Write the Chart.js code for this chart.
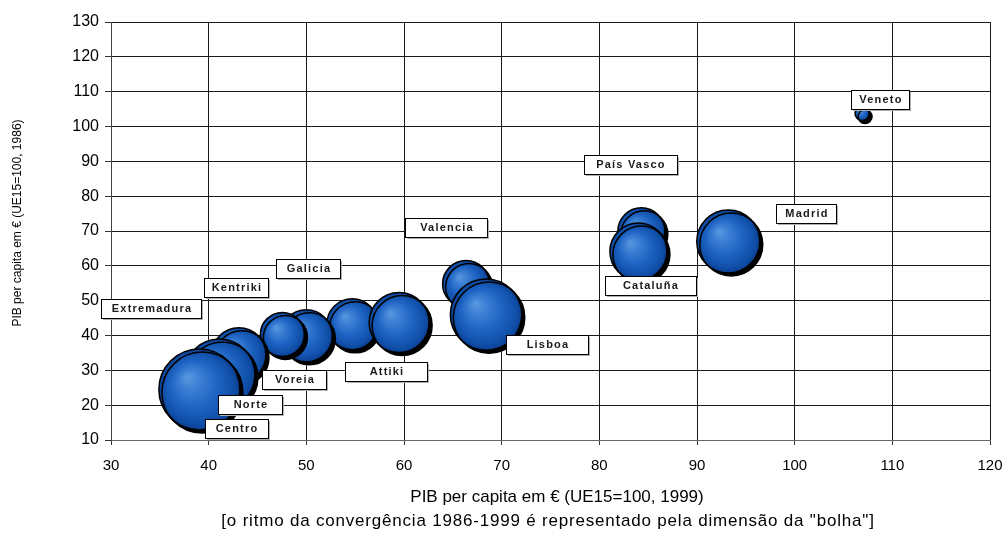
<!DOCTYPE html>
<html><head><meta charset="utf-8">
<script src="https://cdn.jsdelivr.net/npm/chart.js@4.4.1/dist/chart.umd.min.js"></script>
<style>html,body{margin:0;padding:0;background:#fff;overflow:hidden}</style>
</head><body>
<canvas id="c" width="1007" height="538" style="display:block;width:1007px;height:538px"></canvas>
<script>
// ---- data (draw order: back to front) ----
const regions = ['Veneto','Madrid','País Vasco','Cataluña','Valencia','Lisboa','Galicia','Attiki','Voreia','Kentriki','Extremadura','Norte','Centro'];
const gdp1999 = [106.9, 93.2, 84.3, 84.0, 66.35, 68.4, 54.7, 59.5, 50.0, 47.55, 43.1, 41.1, 39.05];
const gdp1986 = [103.7, 67.0, 69.9, 64.1, 54.8, 46.0, 43.2, 43.7, 39.9, 40.3, 34.5, 28.8, 24.5];
const bubbleRadius = [7, 31.5, 23.5, 28.5, 23.4, 35.7, 25.5, 30, 26, 22, 27, 35.5, 40.5];
const xTickValues = [30,40,50,60,70,80,90,100,110,120];
const yTickValues = [10,20,30,40,50,60,70,80,90,100,110,120,130];
const xTitle = ['PIB per capita em € (UE15=100, 1999)', '[o ritmo da convergência 1986-1999 é representado pela dimensão da "bolha"]'];
const yTitle = 'PIB per capita em € (UE15=100, 1986)';

// ---- label layout (separate from data) ----
const labelAnchorX = [108.7, 101.2, 83.1, 85.2, 64.3, 74.6, 50.2, 58.2, 48.7, 42.8, 34.1, 44.2, 42.8];
const labelAnchorY = [107.9, 75.3, 89.2, 54.6, 71.2, 37.6, 59.4, 29.8, 27.5, 53.9, 48.0, 20.3, 13.4];
const labelBoxWidth = [58, 60, 93, 91, 82, 82, 64, 82, 64, 64, 100, 64, 63];

const FONT = '"Liberation Sans", Arial, sans-serif';

const points = regions.map((n, i) => ({x: gdp1999[i], y: gdp1986[i], r: bubbleRadius[i]}));

function bubbleFill(ctx) {
  if (ctx.type !== 'data') return '#1a5fbf';
  const chart = ctx.chart;
  const sx = chart.scales.x, sy = chart.scales.y;
  if (!sx || !sy) return '#1a5fbf';
  const p = ctx.raw;
  const cx = sx.getPixelForValue(p.x), cy = sy.getPixelForValue(p.y), r = p.r;
  if (!isFinite(cx) || !isFinite(cy)) return '#1a5fbf';
  const g = chart.ctx.createRadialGradient(cx - r * 0.3, cy - r * 0.32, 0, cx, cy, r);
  g.addColorStop(0, '#5a98e0');
  g.addColorStop(0.25, '#3c7fd4');
  g.addColorStop(0.6, '#1d62c2');
  g.addColorStop(0.88, '#104fa8');
  g.addColorStop(1, '#0a3f92');
  return g;
}

const shadowPlugin = {
  id: 'bubbleShadow',
  beforeDatasetsDraw(chart) {
    const c = chart.ctx;
    c.save();
    c.shadowColor = 'rgba(0,0,0,1)';
    c.shadowOffsetX = 3;
    c.shadowOffsetY = 3;
    c.shadowBlur = 0;
  },
  afterDatasetsDraw(chart) { chart.ctx.restore(); }
};

const labelPlugin = {
  id: 'regionLabels',
  afterDraw(chart) {
    const c = chart.ctx;
    const sx = chart.scales.x, sy = chart.scales.y;
    const hasLS = ('letterSpacing' in c);
    c.save();
    c.font = 'bold 11px ' + FONT;
    if (hasLS) c.letterSpacing = '1.2px';
    c.textAlign = 'center';
    c.textBaseline = 'middle';
    regions.forEach((name, i) => {
      const px = Math.round(sx.getPixelForValue(labelAnchorX[i]));
      const py = Math.round(sy.getPixelForValue(labelAnchorY[i]));
      const w = labelBoxWidth[i], h = 19;
      const l = Math.round(px - w / 2), t = Math.round(py - h / 2);
      c.fillStyle = '#b0b0b0';
      c.fillRect(l + 2, t + 2, w, h);
      c.fillStyle = '#ffffff';
      c.fillRect(l, t, w, h);
      c.strokeStyle = '#000';
      c.lineWidth = 1;
      c.strokeRect(l + 0.5, t + 0.5, w, h);
      c.fillStyle = '#1a1a1a';
      c.fillText(name, px + 1, py + 1);
    });
    // x axis title (two lines)
    c.fillStyle = '#000';
    c.textAlign = 'center';
    c.textBaseline = 'middle';
    c.font = '17px ' + FONT;
    if (hasLS) c.letterSpacing = '0px';
    c.fillText(xTitle[0], 557, 497);
    if (hasLS) c.letterSpacing = '0.8px';
    c.fillText(xTitle[1], 548, 521);
    // y axis title
    if (hasLS) c.letterSpacing = '0px';
    c.font = '12px ' + FONT;
    c.translate(18, 223);
    c.rotate(-Math.PI / 2);
    c.fillText(yTitle, 0, 0);
    c.restore();
  }
};

new Chart(document.getElementById('c'), {
  type: 'bubble',
  data: {
    datasets: [{
      label: 'Regiões',
      data: points,
      backgroundColor: bubbleFill,
      borderColor: '#000',
      borderWidth: 1.5,
      hoverRadius: 0,
      hoverBorderWidth: 1.5
    }]
  },
  plugins: [shadowPlugin, labelPlugin],
  options: {
    responsive: false,
    animation: false,
    devicePixelRatio: 1,
    events: [],
    layout: {autoPadding: false, padding: {left: 0, right: 17, top: 22, bottom: 0}},
    plugins: {legend: {display: false}, tooltip: {enabled: false}, title: {display: false}},
    scales: {
      x: {
        type: 'linear', min: 30, max: 120,
        afterBuildTicks(scale) { scale.ticks = xTickValues.map(v => ({value: v})); },
        afterFit(scale) { scale.height = 98; scale.paddingLeft = 0; scale.paddingRight = 0; },
        grid: {color: '#1a1a1a', lineWidth: 1, drawTicks: true, tickLength: 5, tickColor: '#333'},
        border: {display: true, color: '#666', width: 1},
        ticks: {font: {family: FONT, size: 15}, color: '#000', padding: 12, maxRotation: 0, autoSkip: false},
        title: {display: false}
      },
      y: {
        type: 'linear', min: 10, max: 130,
        afterBuildTicks(scale) { scale.ticks = yTickValues.map(v => ({value: v})); },
        afterFit(scale) { scale.width = 111; scale.paddingTop = 0; scale.paddingBottom = 0; },
        grid: {color: '#1a1a1a', lineWidth: 1, drawTicks: true, tickLength: 6, tickColor: '#333'},
        border: {display: true, color: '#444', width: 1},
        ticks: {font: {family: FONT, size: 16}, color: '#000', padding: 6, autoSkip: false}
      }
    }
  }
});
</script>
</body></html>
